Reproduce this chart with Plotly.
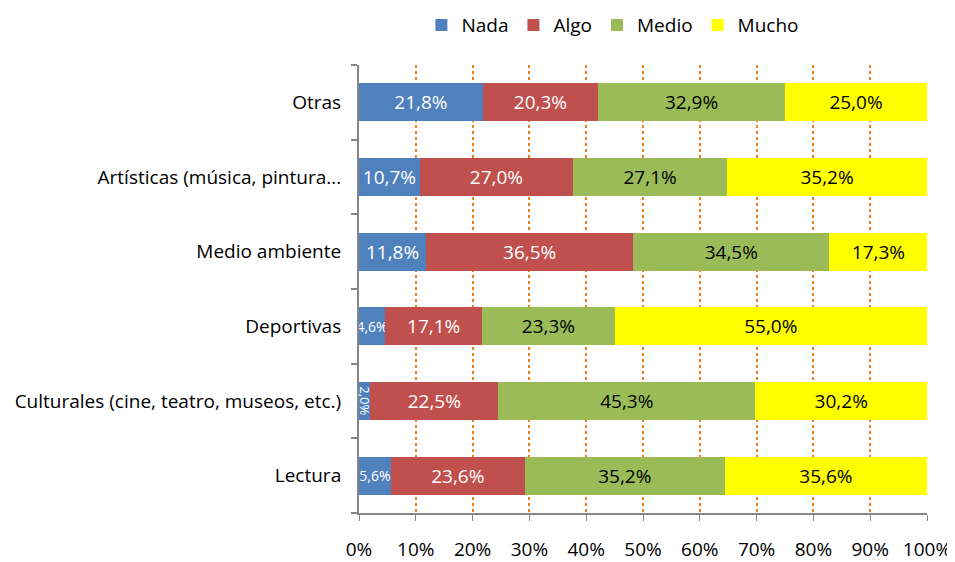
import plotly.graph_objects as go

categories = ["Lectura", "Culturales (cine, teatro, museos, etc.)", "Deportivas",
              "Medio ambiente", "Artísticas (música, pintura...", "Otras"]
nada = [5.6, 2.0, 4.6, 11.8, 10.7, 21.8]
algo = [23.6, 22.5, 17.1, 36.5, 27.0, 20.3]
medio = [35.2, 45.3, 23.3, 34.5, 27.1, 32.9]
mucho = [35.6, 30.2, 55.0, 17.3, 35.2, 25.0]
tick_vals = [0, 10, 20, 30, 40, 50, 60, 70, 80, 90, 100]
tick_text = [f"{v}%" for v in tick_vals]

series = [
    ("Nada", nada, "#4F81BD", "white"),
    ("Algo", algo, "#C0504D", "white"),
    ("Medio", medio, "#9BBB59", "black"),
    ("Mucho", mucho, "#FFFF00", "black"),
]

def fmt(v):
    return f"{v:.1f}%".replace(".", ",")

FONT = "Open Sans"
FS = 19
fig = go.Figure()
for name, vals, color, tcolor in series:
    texts = [fmt(v) for v in vals]
    sizes = [FS] * len(vals)
    rotated = []
    for i, v in enumerate(vals):
        if v < 3:
            rotated.append(i)
            texts[i] = ""
        elif v < 8:
            sizes[i] = 14
    fig.add_trace(go.Bar(
        name=name, y=categories, x=vals, orientation="h",
        marker=dict(color=color, line=dict(width=0)),
        text=texts,
        textposition="inside", insidetextanchor="middle", textangle=0,
        constraintext="none",
        textfont=dict(color=tcolor, size=sizes, family=FONT),
        hoverinfo="skip",
    ))
    for i in rotated:
        fig.add_annotation(x=vals[i] / 2, y=categories[i], text=fmt(vals[i]),
                           textangle=90, showarrow=False,
                           font=dict(color=tcolor, size=13, family=FONT))

# page body has an 8px margin: figure is offset by 8px right/down
fig.update_layout(
    barmode="stack", bargap=0.49,
    width=947, height=554,
    margin=dict(l=351, r=28, t=57, b=49, autoexpand=False),
    plot_bgcolor="white", paper_bgcolor="rgba(0,0,0,0)",
    font=dict(family=FONT, size=FS, color="black"),
    legend=dict(orientation="h", x=0.447, xanchor="center", y=1.089, yanchor="middle",
                traceorder="normal", bgcolor="rgba(0,0,0,0)",
                font=dict(size=FS, family=FONT), itemwidth=30),
    xaxis=dict(range=[0, 100], tickvals=tick_vals, ticktext=tick_text,
               showgrid=True, gridcolor="#F07F1E", griddash="dot", gridwidth=2,
               showline=True, linecolor="#868686", linewidth=2,
               ticks="outside", ticklen=6, tickcolor="#868686", tickwidth=1,
               ticklabelstandoff=12, zeroline=False, fixedrange=True, automargin=False),
    yaxis=dict(showline=True, linecolor="#868686", linewidth=2,
               ticks="outside", tickson="boundaries", ticklen=6, tickcolor="#868686",
               tickwidth=2, ticklabelstandoff=12, showgrid=False, fixedrange=True,
               automargin=False),
)

fig.write_html("out.html")
